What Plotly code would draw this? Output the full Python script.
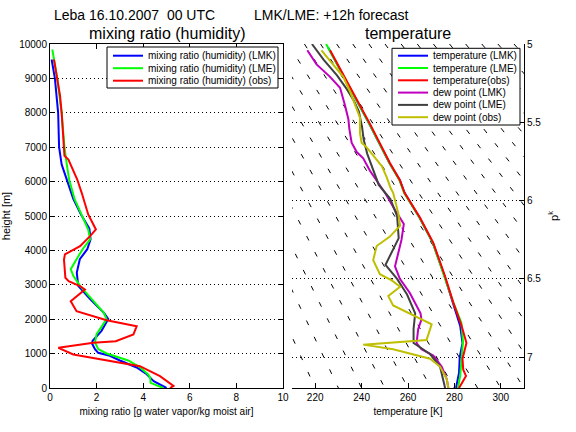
import plotly.graph_objects as go

# ---------------- data: left panel (mixing ratio [g/kg] vs height [m]) ----------------
h_lmk = [9550, 9000, 8000, 7000, 6500, 6060, 5500, 5044, 4637, 4320, 4035, 3745, 3358, 2970,
         2583, 2195, 2002, 1663, 1372, 1300, 1130, 1023, 937, 800, 596, 400, 200, 0]
mr_lmk = [0.07, 0.21, 0.35, 0.39, 0.50, 0.72, 1.00, 1.33, 1.69, 1.74, 1.60, 1.28, 1.15, 1.21,
          1.72, 2.30, 2.50, 2.21, 1.83, 1.80, 1.93, 2.07, 2.57, 3.00, 3.72, 4.15, 4.45, 5.00]

h_lme = [9840, 9000, 8000, 7300, 7000, 6500, 6060, 5500, 5044, 4608, 4320, 4035, 3745, 3455,
         3261, 2970, 2583, 2195, 2002, 1857, 1566, 1324, 1130, 1003, 800, 600, 400, 300, 150, 0]
mr_lme = [0.10, 0.31, 0.50, 0.57, 0.62, 0.72, 0.82, 1.05, 1.36, 1.64, 1.72, 1.40, 1.14, 0.89,
          1.00, 1.29, 1.79, 2.30, 2.43, 2.29, 2.00, 1.93, 2.07, 2.43, 3.36, 3.86, 4.20, 4.30, 4.32, 4.86]

h_obs = [9550, 9000, 8500, 8000, 7300, 6930, 6750, 6642, 6060, 5674, 5044, 4608, 4413, 4122,
         3881, 3735, 3203, 3105, 2960, 2863, 2523, 2233, 1971, 1797, 1555, 1361, 1314, 1168,
         974, 634, 343, 60, 0]
mr_obs = [0.17, 0.29, 0.43, 0.50, 0.57, 0.58, 0.62, 0.79, 1.17, 1.36, 1.64, 1.97, 1.72, 1.29,
          0.64, 0.60, 0.66, 0.80, 1.29, 1.50, 0.89, 1.14, 2.43, 3.72, 3.58, 2.82, 1.86, 0.36,
          1.00, 3.86, 4.72, 5.30, 5.15]

# ---------------- data: right panel (temperature [K] vs p^k) ----------------
pk_t_lmk = [5.02, 5.25, 5.51, 5.76, 5.87, 5.95, 6.11, 6.27, 6.48, 6.65, 6.80, 6.91, 7.00, 7.10, 7.197]
t_lmk = [225.5, 234.0, 243.3, 252.0, 256.5, 258.5, 265.0, 270.7, 275.7, 279.3, 282.5, 283.5, 282.3, 282.0, 280.7]

pk_t_lme = [5.00, 5.25, 5.51, 5.76, 5.87, 5.95, 6.11, 6.27, 6.48, 6.65, 6.78, 6.90, 7.03, 7.12, 7.197]
t_lme = [224.7, 233.8, 243.3, 252.0, 256.3, 258.3, 265.0, 270.7, 275.7, 279.5, 283.0, 283.7, 283.0, 282.5, 281.5]

pk_t_obs = [5.04, 5.25, 5.51, 5.76, 5.87, 5.95, 6.11, 6.27, 6.48, 6.65, 6.80, 6.91, 7.01, 7.08, 7.12, 7.197]
t_obs = [226.4, 234.0, 243.6, 252.2, 256.5, 258.5, 265.2, 270.9, 275.9, 279.5, 283.1, 285.2, 283.5, 283.8, 285.0, 282.0]

pk_d_lmk = [5.04, 5.13, 5.21, 5.28, 5.39, 5.48, 5.54, 5.63, 5.69, 5.73, 5.81, 5.87, 5.96, 6.05,
            6.12, 6.15, 6.25, 6.33, 6.42, 6.50, 6.59, 6.72, 6.76, 6.82, 6.91, 6.95, 6.99, 7.06,
            7.14, 7.197]
d_lmk = [216.6, 220.6, 226.4, 230.7, 232.8, 234.3, 234.7, 235.7, 237.9, 240.7, 243.6, 246.5, 250.5, 254.0,
         257.2, 258.2, 257.2, 255.8, 254.4, 256.5, 260.8, 265.4, 265.8, 264.4, 263.7, 265.8, 270.9, 274.5,
         276.7, 277.4]

pk_d_lme = [5.00, 5.10, 5.20, 5.29, 5.36, 5.43, 5.53, 5.61, 5.70, 5.79, 5.90, 5.99, 6.10, 6.24,
            6.33, 6.41, 6.50, 6.60, 6.72, 6.82, 6.91, 6.98, 7.06, 7.197]
d_lme = [218.6, 223.6, 229.4, 233.7, 236.6, 238.8, 240.2, 240.9, 242.4, 244.5, 247.4, 252.4, 255.3, 256.0,
         253.1, 250.3, 255.3, 259.6, 263.1, 262.4, 262.4, 269.5, 273.8, 276.0]

pk_d_obs = [5.04, 5.13, 5.21, 5.30, 5.41, 5.47, 5.57, 5.63, 5.66, 5.74, 5.78, 5.85, 5.92, 5.95,
            6.08, 6.16, 6.23, 6.29, 6.38, 6.47, 6.51, 6.55, 6.61, 6.67, 6.74, 6.79, 6.89, 6.90,
            6.92, 6.95, 7.01, 7.06, 7.14, 7.197]
d_obs = [222.7, 227.7, 232.1, 234.9, 237.9, 239.3, 239.3, 240.0, 242.2, 246.5, 248.7, 250.8, 252.5, 253.6,
         255.8, 256.6, 252.2, 246.5, 245.0, 247.9, 253.0, 256.6, 251.5, 253.6, 263.7, 270.2, 268.0, 260.1,
         240.7, 253.6, 269.5, 273.8, 276.7, 277.4]

# dry adiabats (potential temperature, K) drawn as background reference lines
theta_lines = [220, 230, 240, 250, 260, 270, 280, 290, 300, 310, 320, 330, 340, 350,
               360, 370, 380, 390, 400, 410, 420, 430, 440]
PK0 = 7.197   # p^k at 1000 hPa (bottom of the right axis)
PK_TOP = 5.0

# tick labels
x1_ticks = [0, 2, 4, 6, 8, 10]
y1_ticks = [0, 1000, 2000, 3000, 4000, 5000, 6000, 7000, 8000, 9000, 10000]
x2_ticks = [220, 240, 260, 280, 300]
y2_ticks = [5, 5.5, 6, 6.5, 7]
y2_labels = ["5", "5.5", "6", "6.5", "7"]

legend1_names = ["mixing ratio (humidity) (LMK)", "mixing ratio (humidity) (LME)",
                 "mixing ratio (humidity) (obs)"]
legend1_colors = ["#0000ff", "#00ff00", "#ff0000"]
legend2_names = ["temperature (LMK)", "temperature (LME)", "temperature(obs)",
                 "dew point (LMK)", "dew point (LME)", "dew point (obs)"]
legend2_colors = ["#0000ff", "#00ff00", "#ff0000", "#bf00bf", "#404040", "#bfbf00"]

# ---------------- geometry ----------------
W, H = 576, 432
ML, MR, MT, MB = 50, 52, 44, 44
PW, PH = W - ML - MR, H - MT - MB


def pxx(px):
    return (px - ML) / PW


def pxy(py):
    return (H - MB - py) / PH


FONT = "Liberation Sans, Arial, Helvetica, sans-serif"

fig = go.Figure()

# background adiabats
for th in theta_lines:
    fig.add_trace(go.Scatter(x=[th * PK_TOP / PK0, th], y=[PK_TOP, PK0], mode="lines",
                             line=dict(color="black", width=1, dash="5px,13px"),
                             xaxis="x2", yaxis="y2", hoverinfo="skip", showlegend=False))

# left panel
for xs, ys, c in [(mr_lmk, h_lmk, legend1_colors[0]), (mr_lme, h_lme, legend1_colors[1]),
                  (mr_obs, h_obs, legend1_colors[2])]:
    fig.add_trace(go.Scatter(x=xs, y=ys, mode="lines", line=dict(color=c, width=2),
                             xaxis="x", yaxis="y", showlegend=False))

# right panel
for xs, ys, c in [(t_lmk, pk_t_lmk, legend2_colors[0]), (t_lme, pk_t_lme, legend2_colors[1]),
                  (t_obs, pk_t_obs, legend2_colors[2]), (d_lmk, pk_d_lmk, legend2_colors[3]),
                  (d_lme, pk_d_lme, legend2_colors[4]), (d_obs, pk_d_obs, legend2_colors[5])]:
    fig.add_trace(go.Scatter(x=xs, y=ys, mode="lines", line=dict(color=c, width=2),
                             xaxis="x2", yaxis="y2", showlegend=False))

shapes = []
annotations = []


def add_legend(box, names, colors, y0, dy, lx0, lx1, tx):
    shapes.append(dict(type="rect", xref="paper", yref="paper", layer="above",
                       x0=pxx(box[0]), x1=pxx(box[2]), y0=pxy(box[1]), y1=pxy(box[3]),
                       line=dict(color="black", width=1), fillcolor="white"))
    for i, (n, c) in enumerate(zip(names, colors)):
        yy = y0 + i * dy
        shapes.append(dict(type="line", xref="paper", yref="paper", layer="above",
                           x0=pxx(lx0), x1=pxx(lx1), y0=pxy(yy), y1=pxy(yy),
                           line=dict(color=c, width=2)))
        annotations.append(dict(xref="paper", yref="paper", x=pxx(tx), y=pxy(yy), text=n,
                                showarrow=False, xanchor="left", yanchor="middle",
                                font=dict(size=10, family=FONT, color="black")))


add_legend((107, 47, 278, 88), legend1_names, legend1_colors, 55.7, 12.5, 113, 143, 145.5)
add_legend((392, 48.3, 520, 125), legend2_names, legend2_colors, 55.7, 12.3, 398, 428, 430.5)

# titles
annotations += [
    dict(xref="paper", yref="paper", x=pxx(52), y=pxy(14.7),
         text="Leba 16.10.2007\u00a0\u00a000 UTC", showarrow=False, xanchor="left",
         yanchor="middle", font=dict(size=14, family=FONT, color="black")),
    dict(xref="paper", yref="paper", x=pxx(252), y=pxy(14.7),
         text="LMK/LME: +12h forecast", showarrow=False, xanchor="left",
         yanchor="middle", font=dict(size=14, family=FONT, color="black")),
    dict(xref="paper", yref="paper", x=pxx(166.5), y=pxy(34),
         text="mixing ratio (humidity)", showarrow=False, xanchor="center",
         yanchor="middle", font=dict(size=16, family=FONT, color="black")),
    dict(xref="paper", yref="paper", x=pxx(408), y=pxy(34),
         text="temperature", showarrow=False, xanchor="center",
         yanchor="middle", font=dict(size=16, family=FONT, color="black")),
]

axis_common = dict(showline=True, linecolor="black", linewidth=1, ticks="inside", ticklen=5,
                   tickcolor="black", zeroline=False, automargin=False,
                   tickfont=dict(size=10, family=FONT))
grid = dict(showgrid=True, gridcolor="black", gridwidth=1, griddash="1px,3px")

fig.update_layout(
    width=W, height=H,
    margin=dict(l=ML, r=MR, t=MT, b=MB, pad=0, autoexpand=False),
    paper_bgcolor="white", plot_bgcolor="white",
    showlegend=False,
    font=dict(family=FONT, size=10, color="black"),
    xaxis=dict(domain=[0, pxx(283)], range=[0, 10], tickvals=x1_ticks, mirror="ticks",
               showgrid=False, anchor="y",
               title=dict(text="mixing ratio [g water vapor/kg moist air]", standoff=5,
                          font=dict(size=10, family=FONT)),
               **axis_common),
    yaxis=dict(range=[0, 10000], tickvals=y1_ticks, ticktext=[str(v) for v in y1_ticks],
               mirror="ticks", anchor="x",
               title=dict(text="height [m]", standoff=6, font=dict(size=11, family=FONT)),
               **grid, **axis_common),
    xaxis2=dict(domain=[pxx(292), 1], range=[210, 310], tickvals=x2_ticks, mirror=False,
                showgrid=False, anchor="y2",
                title=dict(text="temperature [K]", standoff=5, font=dict(size=10, family=FONT)),
                **axis_common),
    yaxis2=dict(range=[PK0, PK_TOP], tickvals=y2_ticks, ticktext=y2_labels, side="right",
                mirror=False, anchor="x2",
                title=dict(text="p<sup>k</sup>", standoff=9, font=dict(size=11, family=FONT)),
                **grid, **axis_common),
    shapes=shapes,
    annotations=annotations,
)

fig.write_html("out.html", config={"displayModeBar": False},
               post_script="document.body.style.margin='0px';document.body.style.overflow='hidden';")
